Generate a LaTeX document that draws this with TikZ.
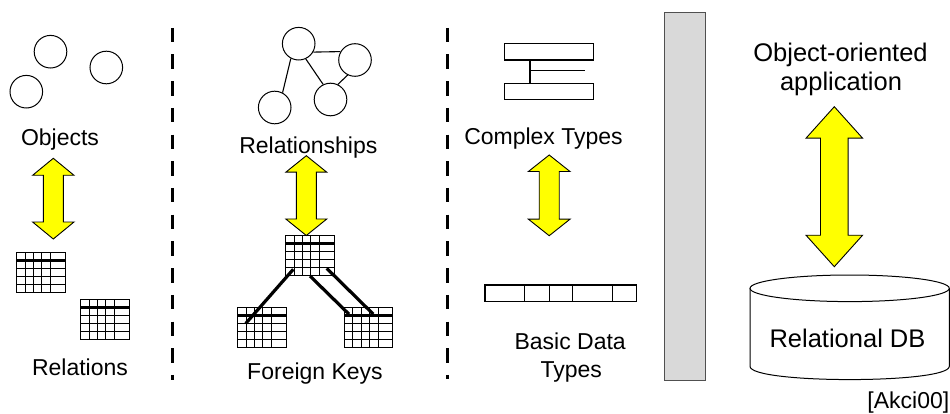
\documentclass[tikz,border=0pt]{standalone}
\usepackage{fontspec}
\setmainfont{Liberation Sans}
\usetikzlibrary{calc}
\definecolor{barfill}{RGB}{217,217,217}
\definecolor{barline}{RGB}{80,80,80}
\newcommand{\ydarrow}[6]{%
  \filldraw[yarrow] (#1,#2) -- (#1+#4,#2+#6) -- (#1+#5,#2+#6) -- (#1+#5,#3-#6)
    -- (#1+#4,#3-#6) -- (#1,#3) -- (#1-#4,#3-#6) -- (#1-#5,#3-#6)
    -- (#1-#5,#2+#6) -- (#1-#4,#2+#6) -- cycle;}
\tikzset{
  lbl/.style={inner sep=0pt, anchor=base, font=\fontsize{23}{28}\selectfont},
  biglbl/.style={lbl, font=\fontsize{25.5}{30}\selectfont},
  ring/.style={circle, draw, line width=1pt, minimum size=32.6pt, inner sep=0pt},
  link/.style={line width=1.1pt},
  fk/.style={line width=3.2pt},
  sep/.style={line width=3.6pt, dash pattern=on 14.5pt off 12.2pt},
  yarrow/.style={fill={rgb,255:red,255;green,255;blue,0}, draw=black, line width=0.9pt, line join=miter},
  thinbox/.style={draw, line width=1.2pt},
  reltab/.pic={
    \coordinate (-nw) at (0,0);
    \draw[line width=1pt] (0,0) rectangle (48.5,40);
    \foreach \x in {8.3,16.7,25,34} \draw[line width=1pt] (\x,0) -- (\x,40);
    \foreach \y in {16,24,32} \draw[line width=1pt] (0,\y) -- (48.5,\y);
    \draw[line width=3.2pt] (0,8) -- (48.5,8);
  }
}
\begin{document}
\begin{tikzpicture}[x=1pt,y=-1pt]
\useasboundingbox (0,0) rectangle (950,414);
\fill[white] (0,0) rectangle (950,414);

% ---------- panel 1: objects / relations
\node[ring] (o1) at (50.5,51.7) {};
\node[ring] (o2) at (106.3,67.5) {};
\node[ring] (o3) at (26.3,91.7) {};
\node[lbl] (objects) at (60,145.7) {Objects};
\ydarrow{53.3}{158.3}{239}{20.7}{10}{17}
\pic (r1) at (16.7,252.3) {reltab};
\pic (r2) at (80.7,299.5) {reltab};
\node[lbl] (relations) at (80,375.7) {Relations};

\draw[sep] (172.3,27.8) -- (172.3,380);

% ---------- panel 2: relationships / foreign keys
\node[ring] (c1) at (298.7,43.7) {};
\node[ring] (c2) at (355,60) {};
\node[ring] (c3) at (330.5,99.5) {};
\node[ring] (c4) at (274.7,107.5) {};
\draw[link] (c1.-30) -- (c2.150);
\draw[link] (c1.242) -- (c4.62);
\draw[link] (c1.295) -- (c3.116);
\draw[link] (c2.244) -- (c3.64);
\node[lbl] (relationships) at (308.3,153.3) {Relationships};
\ydarrow{306.3}{155.7}{235.5}{20.5}{10}{16.5}
\pic (tt) at (285.7,235.7) {reltab};
\pic (fa) at (237.7,307.5) {reltab};
\pic (fb) at (344.3,307.5) {reltab};
\draw[fk] ($(tt-nw)+(7.6,33.6)$) -- ($(fa-nw)+(8,16)$);
\draw[fk] ($(tt-nw)+(24.3,40.3)$) -- ($(fb-nw)+(4.7,6.7)$);
\draw[fk] ($(tt-nw)+(41,32.6)$) -- ($(fb-nw)+(29,6.7)$);
\node[lbl] (fkeys) at (315,379) {Foreign Keys};

\draw[sep] (447.3,27.8) -- (447.3,379);

% ---------- panel 3: complex / basic types
\draw[thinbox] (504.3,43.3) rectangle (593.3,60);
\draw[thinbox] (504.3,83.3) rectangle (593.3,99.3);
\draw[line width=1.2pt] (530,60) -- (530,83.3);
\draw[line width=1.2pt] (530,70.7) -- (585,70.7);
\node[lbl] (complex) at (543.5,144.3) {Complex Types};
\ydarrow{549.2}{155}{235.7}{20.8}{10}{16.5}
\draw[thinbox] (485,285) rectangle (636.7,301.7);
\foreach \x in {524.3,549.3,572.7,612.7} \draw[line width=1.2pt] (\x,285) -- (\x,301.7);
\node[lbl] (basic1) at (570.2,349.3) {Basic Data};
\node[lbl] (basic2) at (571.3,377.7) {Types};

% ---------- grey bar
\draw[fill=barfill, draw=barline, line width=1pt] (664.3,12.3) rectangle (705,380);

% ---------- panel 4: application / database
\node[biglbl] (oo1) at (840.5,61.5) {Object-oriented};
\node[biglbl] (oo2) at (841,91) {application};
\ydarrow{834.3}{106.7}{266.7}{28.3}{13.8}{31.5}
\draw[line width=1pt] (750,288.3) -- (750,366.3)
  .. controls (750,384) and (949.3,384) .. (949.3,366.3) -- (949.3,288.3);
\draw[line width=1pt] (849.65,288.3) ellipse[x radius=99.65, y radius=13.3];
\node[biglbl] (rdb) at (847.5,347.3) {Relational DB};
\node[lbl, anchor=base east] (cite) at (949.5,408.3) {[Akci00]};
\end{tikzpicture}
\end{document}
